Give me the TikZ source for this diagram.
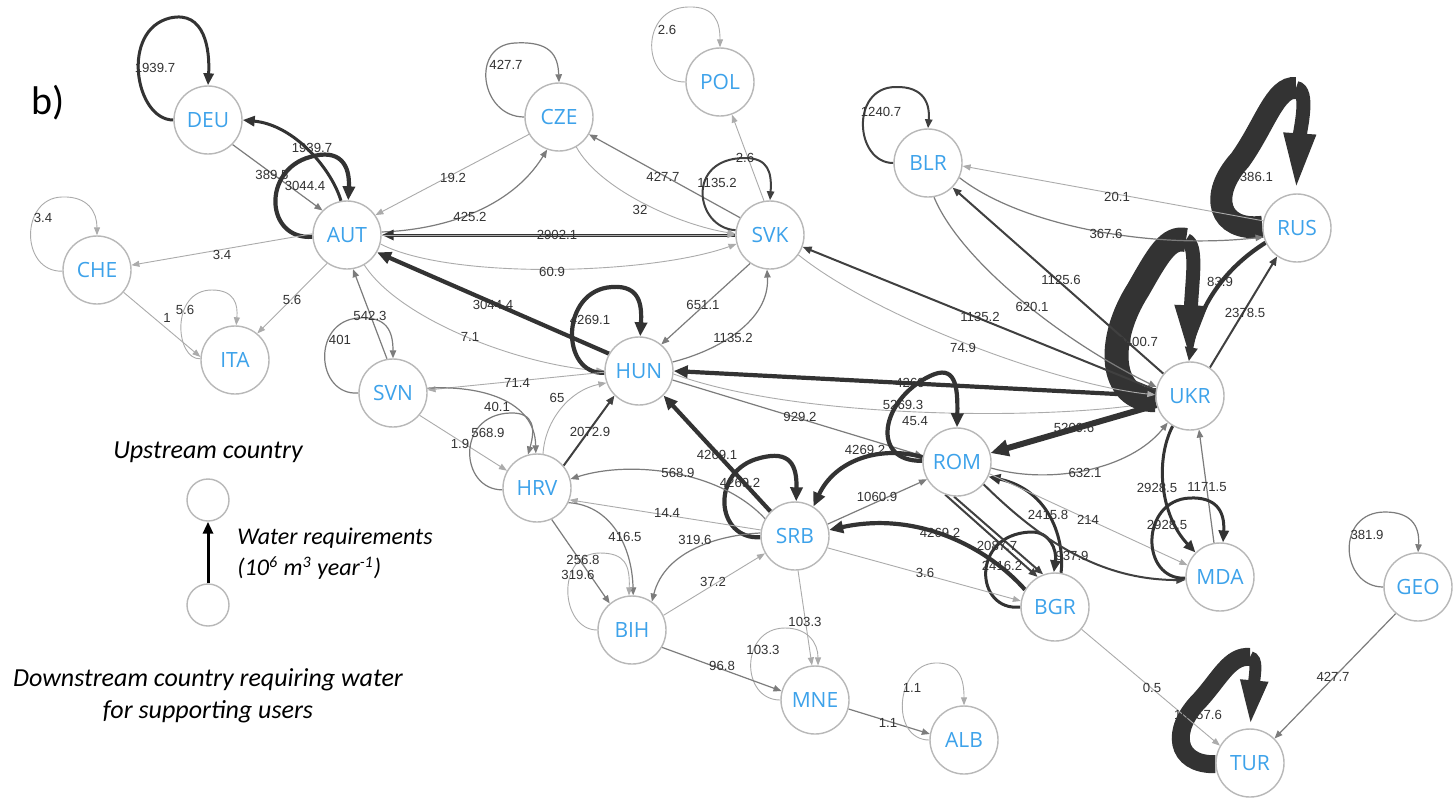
\documentclass[tikz,border=0pt]{standalone}
\usepackage{fontspec}
\usetikzlibrary{arrows.meta}
\newfontfamily\opensans{Open Sans}
\newfontfamily\libsans{Liberation Sans}
\newfontfamily\carlito{Carlito}
\definecolor{ndgray}{HTML}{B8B8B8}
\definecolor{ndblue}{HTML}{3DA2EA}
\definecolor{cA}{HTML}{ABABAB}
\definecolor{cB}{HTML}{7C7C7C}
\definecolor{cC}{HTML}{404040}
\definecolor{cD}{HTML}{333333}
\definecolor{lbc}{HTML}{333333}
\pgfdeclarelayer{bg}
\pgfdeclarelayer{edges}
\pgfsetlayers{bg,edges,main}
\tikzset{
 nd/.style={circle, draw=ndgray, fill=white, line width=0.7pt, minimum size=34pt, inner sep=0pt, text=ndblue, font=\opensans\fontsize{10.5}{12}\selectfont},
 lb/.style={inner sep=0pt, text=lbc, font=\libsans\fontsize{6.6}{7}\selectfont},
 ea/.style={draw=cA, line width=0.45pt, -{Triangle[length=4pt,width=3pt]}},
 eb/.style={draw=cB, line width=0.6pt, -{Triangle[length=4pt,width=3.2pt]}},
 ec/.style={draw=cC, line width=1pt, -{Triangle[length=4.5pt,width=3.6pt]}},
 edd/.style={draw=cD, line width=1.5pt, -{Triangle[length=6pt,width=5pt]}},
 ee/.style={draw=cD, line width=2.1pt, -{Triangle[length=7pt,width=6pt]}},
 ef/.style={draw=cD, line width=3pt, -{Triangle[length=9pt,width=8pt]}},
 band/.style={draw=cD},
 legt/.style={font=\carlito\itshape\fontsize{13}{15}\selectfont, inner sep=0pt, text=black},
 legs/.style={font=\carlito\itshape\fontsize{12}{14}\selectfont, inner sep=0pt, text=black},
 legc/.style={circle, draw=ndgray, fill=white, line width=0.7pt, minimum size=21pt, inner sep=0pt},
}
\begin{document}
\begin{tikzpicture}[x=0.5pt,y=-0.5pt]
\useasboundingbox (0,0) rectangle (1455,804);
\begin{pgfonlayer}{bg}
\fill[white] (0,0) rectangle (1455,804);
\end{pgfonlayer}
% nodes
\node[nd] (DEU) at (208,120) {DEU};
\node[nd] (AUT) at (347,235) {AUT};
\node[nd] (CHE) at (97,270) {CHE};
\node[nd] (ITA) at (235,360) {ITA};
\node[nd] (CZE) at (559,117) {CZE};
\node[nd] (POL) at (720,82) {POL};
\node[nd] (SVK) at (770,235) {SVK};
\node[nd] (BLR) at (928,163) {BLR};
\node[nd] (RUS) at (1297,228) {RUS};
\node[nd] (HUN) at (639,371) {HUN};
\node[nd] (SVN) at (393,393) {SVN};
\node[nd] (HRV) at (537,488) {HRV};
\node[nd] (SRB) at (795,536) {SRB};
\node[nd] (ROM) at (957,462) {ROM};
\node[nd] (UKR) at (1190,396) {UKR};
\node[nd] (MDA) at (1220,577) {MDA};
\node[nd] (BGR) at (1055,607) {BGR};
\node[nd] (GEO) at (1418,587) {GEO};
\node[nd] (BIH) at (632,630) {BIH};
\node[nd] (MNE) at (815,700) {MNE};
\node[nd] (ALB) at (964,740) {ALB};
\node[nd] (TUR) at (1250,763) {TUR};
\node[font=\carlito\fontsize{20}{22}\selectfont, inner sep=0pt] (btag) at (48,103) {b)};
% legend
\node[legc] (up) at (208,500) {};
\node[legc] (down) at (208,605) {};
\draw[black, line width=1.5pt, -{Triangle[length=6pt,width=5pt]}] (down) -- (up);
\node[legt] (t1) at (208,452) {Upstream country};
\node[legs, anchor=west] (t2) at (237,538) {Water requirements};
\node[legs, anchor=west] (t3) at (237,568) {(10\textsuperscript{6} m\textsuperscript{3} year\textsuperscript{-1})};
\node[legt] (t4) at (208,680) {Downstream country requiring water};
\node[legt] (t5) at (208,712) {for supporting users};
\begin{pgfonlayer}{edges}
% DEU / AUT / CHE / ITA
\draw[edd] (DEU.180) .. controls (135,120) and (120,30) .. (170,18) .. controls (205,10) and (210,50) .. (DEU.90);
\draw[edd] (AUT.100) .. controls (332,170) and (295,125) .. (DEU.0);
\draw[eb] (DEU.-45) -- (AUT.135);
\draw[ee] (AUT.183) .. controls (265,240) and (262,170) .. (310,157) .. controls (340,148) and (350,165) .. (AUT.88);
\draw[ea] (AUT.178) -- (CHE.8);
\draw[ea] (AUT.235) -- (ITA.50);
\draw[ea] (CHE.182) .. controls (20,272) and (20,198) .. (62,197) .. controls (88,196) and (97,212) .. (CHE.90);
\draw[ea] (CHE.-40) -- (ITA.175);
\draw[ea] (ITA.178) .. controls (175,360) and (170,290) .. (212,290) .. controls (235,290) and (238,305) .. (ITA.88);
% CZE / POL / SVK
\draw[eb] (CZE.180) .. controls (480,117) and (470,45) .. (515,43) .. controls (550,41) and (558,55) .. (CZE.90);
\draw[ea] (CZE.210) -- (AUT.35);
\draw[eb] (AUT.5) .. controls (440,230) and (510,210) .. (CZE.250);
\draw[eb] (SVK.150) -- (CZE.-30);
\draw[ea] (CZE.-60) .. controls (600,190) and (680,225) .. (SVK.178);
\draw[ea] (POL.180) .. controls (640,82) and (640,8) .. (688,7) .. controls (715,6) and (720,22) .. (POL.90);
\draw[ea] (SVK.100) -- (POL.-70);
\draw[ec] (SVK.172) .. controls (695,228) and (685,158) .. (745,158) .. controls (768,158) and (772,172) .. (SVK.90);
\draw[edd] (SVK.180) -- (AUT.0);
\draw[ea] (AUT.0) -- (SVK.180);
\draw[ea] (AUT.-15) .. controls (450,280) and (650,275) .. (SVK.195);
\draw[ee] (HUN.150) -- (AUT.-30);
\draw[ea] (AUT.-60) .. controls (400,320) and (520,365) .. (HUN.180);
\draw[eb] (SVK.-125) -- (HUN.50);
\draw[eb] (HUN.15) .. controls (720,350) and (770,320) .. (SVK.-95);
% HUN / SVN / HRV
\draw[ee] (HUN.183) .. controls (560,375) and (560,290) .. (612,287) .. controls (640,285) and (642,305) .. (HUN.88);
\draw[ea] (HUN.182) -- (SVN.5);
\draw[eb] (SVN.180) .. controls (316,396) and (311,322) .. (358,318) .. controls (386,316) and (393,330) .. (SVN.90);
\draw[eb] (SVN.100) -- (AUT.-80);
\draw[eb] (SVN.8) .. controls (480,385) and (535,400) .. (HRV.92);
\draw[ea] (SVN.-40) -- (HRV.150);
\draw[eb] (HRV.183) .. controls (460,490) and (455,415) .. (510,413) .. controls (535,412) and (535,430) .. (HRV.105);
\draw[ea] (HRV.80) .. controls (545,420) and (570,390) .. (HUN.200);
\draw[ec] (HRV.40) -- (HUN.225);
\draw[ee] (SRB.135) -- (HUN.-45);
\draw[ee] (UKR.180) -- (HUN.0);
\draw[ea] (HUN.-5) .. controls (800,420) and (1050,420) .. (UKR.190);
\draw[eb] (HUN.-15) -- (ROM.170);
% ROM / SRB / BGR / MDA
\draw[ee] (ROM.178) .. controls (870,462) and (880,400) .. (930,376) .. controls (955,364) and (958,385) .. (ROM.90);
\draw[ee] (ROM.172) .. controls (880,445) and (835,460) .. (SRB.58);
\draw[eb] (SRB.20) -- (ROM.210);
\draw[ef] (UKR.195) -- (ROM.15);
\draw[eb] (ROM.-10) .. controls (1050,485) and (1130,470) .. (UKR.230);
\draw[edd] (BGR.180) .. controls (975,612) and (970,535) .. (1030,532) .. controls (1050,531) and (1057,550) .. (BGR.92);
\draw[ec] (ROM.-110) -- (BGR.120);
\draw[ec] (ROM.-95) -- (BGR.110);
\draw[edd] (BGR.80) .. controls (1065,540) and (1050,490) .. (ROM.-25);
\draw[ea] (ROM.-20) -- (MDA.160);
\draw[ec] (ROM.-40) .. controls (1040,540) and (1100,580) .. (MDA.185);
\draw[ee] (BGR.150) .. controls (990,550) and (920,510) .. (SRB.10);
\draw[ea] (SRB.-20) -- (BGR.170);
\draw[ee] (SRB.182) .. controls (715,540) and (710,470) .. (760,458) .. controls (790,450) and (797,465) .. (SRB.88);
\draw[eb] (SRB.150) .. controls (720,470) and (630,460) .. (HRV.15);
\draw[ea] (SRB.170) -- (HRV.-20);
\draw[eb] (HRV.-25) .. controls (610,505) and (632,545) .. (BIH.88);
\draw[eb] (HRV.-65) -- (BIH.130);
\draw[ea] (BIH.180) .. controls (560,630) and (555,553) .. (600,553) .. controls (625,553) and (630,565) .. (BIH.95);
\draw[eb] (SRB.175) .. controls (720,535) and (665,550) .. (BIH.55);
\draw[ea] (BIH.25) -- (SRB.210);
\draw[ea] (SRB.-85) -- (MNE.95);
\draw[ea] (MNE.180) .. controls (740,700) and (740,628) .. (785,628) .. controls (808,628) and (818,643) .. (MNE.85);
\draw[eb] (BIH.-30) -- (MNE.165);
\draw[eb] (MNE.-15) -- (ALB.170);
\draw[ea] (ALB.180) .. controls (890,740) and (895,665) .. (935,663) .. controls (960,662) and (964,680) .. (ALB.90);
\draw[edd] (UKR.-120) .. controls (1155,460) and (1160,515) .. (MDA.135);
\draw[eb] (MDA.100) -- (UKR.-75);
\draw[edd] (MDA.182) .. controls (1140,580) and (1140,500) .. (1190,498) .. controls (1215,497) and (1225,510) .. (MDA.85);
% UKR / RUS / BLR
\draw[ec] (UKR.55) -- (RUS.235);
\draw[ee] (RUS.205) .. controls (1230,265) and (1200,300) .. (UKR.92);
\coordinate (rustop) at (1296,88);
\draw[band, line width=11pt] (RUS.178) .. controls (1218,232) and (1208,195) .. (1240,160) .. controls (1265,125) and (1275,86) .. (rustop);
\draw[band, line width=7pt, -{Triangle[length=30pt,width=14pt]}] (rustop) .. controls (1310,90) and (1300,130) .. (RUS.92);
\coordinate (ukrtop) at (1186,240);
\draw[band, line width=12pt] (UKR.187) .. controls (1108,400) and (1106,340) .. (1138,290) .. controls (1158,255) and (1168,236) .. (ukrtop);
\draw[band, line width=7pt, -{Triangle[length=28pt,width=14pt]}] (ukrtop) .. controls (1198,245) and (1192,280) .. (UKR.92);
\draw[ec] (BLR.180) .. controls (855,163) and (850,88) .. (895,87) .. controls (925,86) and (930,105) .. (BLR.90);
\draw[ea] (RUS.168) -- (BLR.-5);
\draw[eb] (BLR.-25) .. controls (1020,225) and (1150,250) .. (RUS.195);
\draw[ec] (UKR.140) -- (BLR.-45);
\draw[eb] (BLR.-80) .. controls (960,260) and (1060,340) .. (UKR.165);
\draw[ec] (UKR.170) -- (SVK.-20);
\draw[ea] (SVK.-35) .. controls (880,320) and (1060,385) .. (UKR.178);
% TUR / GEO
\coordinate (turtop) at (1250,657);
\draw[band, line width=9pt] (TUR.182) .. controls (1175,765) and (1170,730) .. (1200,700) .. controls (1220,678) and (1230,655) .. (turtop);
\draw[band, line width=6pt, -{Triangle[length=24pt,width=12pt]}] (turtop) .. controls (1258,659) and (1255,672) .. (TUR.90);
\draw[eb] (GEO.180) .. controls (1340,587) and (1335,512) .. (1385,512) .. controls (1410,512) and (1420,525) .. (GEO.90);
\draw[eb] (GEO.-130) -- (TUR.45);
\draw[ea] (BGR.-40) -- (TUR.150);
\end{pgfonlayer}
% labels
\node[lb] (l01) at (155,68) {1939.7};
\node[lb] (l02) at (312,148) {1939.7};
\node[lb] (l03) at (272,175) {389.5};
\node[lb] (l04) at (305,186) {3044.4};
\node[lb] (l05) at (222,255) {3.4};
\node[lb] (l06) at (43,218) {3.4};
\node[lb] (l07) at (292,300) {5.6};
\node[lb] (l08) at (167,318) {1};
\node[lb] (l09) at (185,310) {5.6};
\node[lb] (l10) at (506,65) {427.7};
\node[lb] (l11) at (453,178) {19.2};
\node[lb] (l12) at (470,217) {425.2};
\node[lb] (l13) at (663,177) {427.7};
\node[lb] (l14) at (640,210) {32};
\node[lb] (l15) at (667,30) {2.6};
\node[lb] (l16) at (745,158) {2.6};
\node[lb] (l17) at (717,183) {1135.2};
\node[lb] (l18) at (557,235) {2902.1};
\node[lb] (l19) at (552,272) {60.9};
\node[lb] (l20) at (493,305) {3044.4};
\node[lb] (l21) at (470,337) {7.1};
\node[lb] (l22) at (703,305) {651.1};
\node[lb] (l23) at (733,338) {1135.2};
\node[lb] (l24) at (590,320) {4269.1};
\node[lb] (l25) at (517,383) {71.4};
\node[lb] (l26) at (340,340) {401};
\node[lb] (l27) at (370,316) {542.3};
\node[lb] (l28) at (497,407) {40.1};
\node[lb] (l29) at (460,444) {1.9};
\node[lb] (l30) at (488,433) {568.9};
\node[lb] (l31) at (557,398) {65};
\node[lb] (l32) at (590,432) {2072.9};
\node[lb] (l33) at (717,455) {4269.1};
\node[lb] (l34) at (910,383) {4269};
\node[lb] (l35) at (915,421) {45.4};
\node[lb] (l36) at (903,405) {5269.3};
\node[lb] (l37) at (800,417) {929.2};
\node[lb] (l38) at (865,450) {4269.2};
\node[lb] (l39) at (877,497) {1060.9};
\node[lb] (l40) at (1074,428) {5209.6};
\node[lb] (l41) at (1085,473) {632.1};
\node[lb] (l42) at (1002,566) {2416.2};
\node[lb] (l43) at (997,546) {2087.7};
\node[lb] (l44) at (1048,515) {2415.8};
\node[lb] (l45) at (1088,520) {214};
\node[lb] (l46) at (1072,556) {937.9};
\node[lb] (l47) at (940,533) {4269.2};
\node[lb] (l48) at (925,573) {3.6};
\node[lb] (l49) at (740,483) {4269.2};
\node[lb] (l50) at (678,473) {568.9};
\node[lb] (l51) at (667,513) {14.4};
\node[lb] (l52) at (625,537) {416.5};
\node[lb] (l53) at (583,560) {256.8};
\node[lb] (l54) at (578,575) {319.6};
\node[lb] (l55) at (695,540) {319.6};
\node[lb] (l56) at (713,582) {37.2};
\node[lb] (l57) at (805,622) {103.3};
\node[lb] (l58) at (763,650) {103.3};
\node[lb] (l59) at (722,666) {96.8};
\node[lb] (l60) at (888,723) {1.1};
\node[lb] (l61) at (912,688) {1.1};
\node[lb] (l62) at (1157,488) {2928.5};
\node[lb] (l63) at (1207,487) {1171.5};
\node[lb] (l64) at (1167,525) {2928.5};
\node[lb] (l65) at (1245,313) {2378.5};
\node[lb] (l66) at (1220,282) {83.9};
\node[lb] (l67) at (1249,177) {15386.1};
\node[lb] (l68) at (1134,342) {20400.7};
\node[lb] (l69) at (1198,715) {10357.6};
\node[lb] (l70) at (1367,535) {381.9};
\node[lb] (l71) at (1333,677) {427.7};
\node[lb] (l72) at (1152,688) {0.5};
\node[lb] (l73) at (881,112) {1240.7};
\node[lb] (l74) at (1117,197) {20.1};
\node[lb] (l75) at (1106,234) {367.6};
\node[lb] (l76) at (1061,280) {1125.6};
\node[lb] (l77) at (1032,307) {620.1};
\node[lb] (l78) at (980,317) {1135.2};
\node[lb] (l79) at (963,348) {74.9};
\end{tikzpicture}
\end{document}
